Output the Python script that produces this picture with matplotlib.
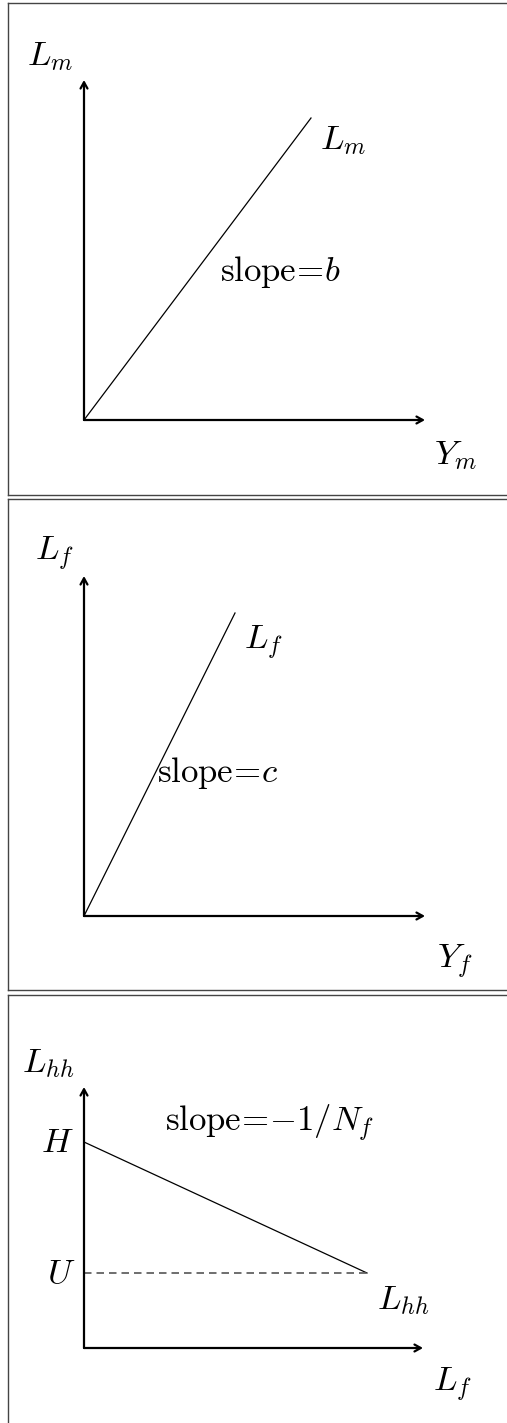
import matplotlib
matplotlib.use("Agg")
import matplotlib.pyplot as plt

plt.rcParams['mathtext.fontset'] = 'cm'
plt.rcParams['font.family'] = 'serif'
plt.rcParams['font.serif'] = ['DejaVu Serif']

W, H = 507, 1423

# panel frames in pixels: (top, bottom, origin_y)
frames = [(3, 495, 420), (499, 990, 916), (995, 1440, 1348)]
left_edge, right_edge, origin_x = 8, 530, 84

# axis arrow lengths (x, y)
axis_len = [(341, 340), (341, 340), (339, 261)]

# budget lines
m_x, m_y = [0, 227], [0, 302]
f_x, f_y = [0, 151], [0, 303]
hh_x, hh_y = [0, 283], [206, 75]
H_level, U_level = 206, 75

# (text, x, y, horizontal alignment)
labels = [
    [(r'$L_m$', -34, 364, 'center'), (r'$L_m$', 259, 280, 'center'),
     (r'$\mathrm{slope}\!=\!b$', 196, 148, 'center'), (r'$Y_m$', 371, -35, 'center')],
    [(r'$L_f$', -30, 362, 'center'), (r'$L_f$', 179, 273, 'center'),
     (r'$\mathrm{slope}\!=\!c$', 73, 143, 'left'), (r'$Y_f$', 371, -46, 'center')],
    [(r'$L_{hh}$', -36, 285, 'center'), (r'$H$', -27, 206, 'center'), (r'$U$', -23, 75, 'center'),
     (r'$\mathrm{slope}\!=\!{-}1/N_f$', 186, 225, 'center'), (r'$L_{hh}$', 319, 48, 'center'),
     (r'$L_f$', 368, -37, 'center')],
]

fig = plt.figure(figsize=(W / 100, H / 100), dpi=100)
axes = []
for (top, bot, oy) in frames:
    ax = fig.add_axes([left_edge / W, 1 - bot / H, (right_edge - left_edge) / W, (bot - top) / H])
    ax.set_xlim(left_edge - origin_x, right_edge - origin_x)
    ax.set_ylim(-(bot - oy), oy - top)
    ax.set_xticks([])
    ax.set_yticks([])
    for s in ax.spines.values():
        s.set_color('#444444')
        s.set_linewidth(1.0)
    axes.append(ax)

arrow = dict(arrowstyle='->,head_length=0.45,head_width=0.25', color='black', lw=1.6,
             shrinkA=0, shrinkB=0)

for ax, (lx, ly) in zip(axes, axis_len):
    ax.annotate('', xy=(lx, 0), xytext=(0, 0), arrowprops=arrow)
    ax.annotate('', xy=(0, ly), xytext=(0, 0), arrowprops=arrow)

axes[0].plot(m_x, m_y, color='black', lw=0.9)
axes[1].plot(f_x, f_y, color='black', lw=0.9)
axes[2].plot(hh_x, hh_y, color='black', lw=0.9)
axes[2].plot([0, hh_x[1]], [U_level, U_level], color='#555555', lw=1.2,
             dashes=(4.5, 3))

for ax, labs in zip(axes, labels):
    for txt, x, y, ha in labs:
        ax.text(x, y, txt, fontsize=25, ha=ha, va='center')

fig.savefig('out.png', dpi=100)
